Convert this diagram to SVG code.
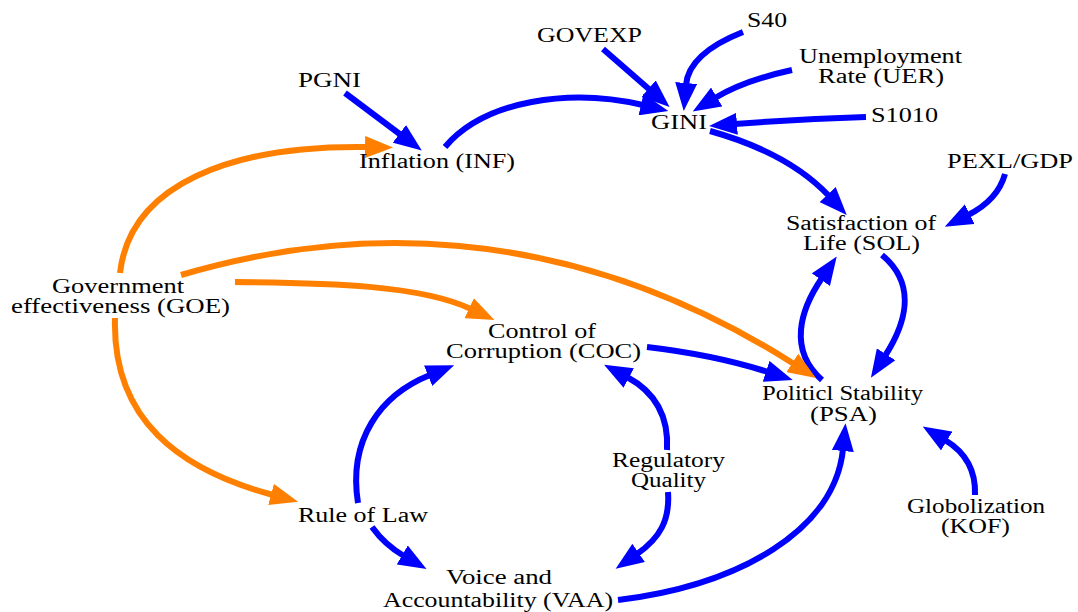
<svg xmlns="http://www.w3.org/2000/svg" width="1078" height="612" viewBox="0 0 1078 612">
  <style>
    text { font-family: "Liberation Serif", "Times New Roman", serif; font-size: 20px; fill: #000; }
    .b { fill: none; stroke: #0000ff; stroke-width: 6; marker-end: url(#ab); }
    .o { fill: none; stroke: #ff8000; stroke-width: 6; marker-end: url(#ao); }
  </style>
  <defs>
    <marker id="ab" markerUnits="userSpaceOnUse" viewBox="0 0 28 22" markerWidth="28" markerHeight="22" refX="2" refY="11" orient="auto">
      <path d="M0,0 L28,11 L0,22 z" fill="#0000ff"/>
    </marker>
    <marker id="ao" markerUnits="userSpaceOnUse" viewBox="0 0 28 22" markerWidth="28" markerHeight="22" refX="2" refY="11" orient="auto">
      <path d="M0,0 L28,11 L0,22 z" fill="#ff8000"/>
    </marker>
  </defs>
  <rect width="1078" height="612" fill="#fff"/>

  <g id="connectors">
    <path class="b" d="M345,93 L401,135"/>
    <path class="b" d="M445,147 C485,100 570,88 643,105"/>
    <path class="b" d="M603,49 L650,90"/>
    <path class="b" d="M743,32 C710,45 688,62 686,85"/>
    <path class="b" d="M792,70 C760,77 735,86 715,98"/>
    <path class="b" d="M866,117 Q800,119 735,124"/>
    <path class="b" d="M710,131 C760,145 800,165 829,196"/>
    <path class="b" d="M1005,174 C1000,192 988,205 968,215"/>
    <path class="b" d="M882,255 C918,285 905,325 885,356"/>
    <path class="b" d="M822,380 C788,350 800,310 822,278"/>
    <path class="b" d="M647,347 Q715,355 768,372"/>
    <path class="o" d="M181,275 C340,228 560,215 794,364"/>
    <path class="o" d="M120,273 C130,185 230,145 367,147"/>
    <path class="o" d="M235,282 C330,283 420,285 471,309"/>
    <path class="o" d="M115,318 C112,420 180,470 273,495"/>
    <path class="b" d="M372,527 Q385,545 404,556"/>
    <path class="b" d="M358,503 C348,440 380,395 430,375"/>
    <path class="b" d="M667,450 C669,415 655,392 627,377"/>
    <path class="b" d="M668,492 C670,520 660,538 637,554"/>
    <path class="b" d="M618,600 C740,585 835,530 843,449"/>
    <path class="b" d="M975,495 C976,470 965,452 945,440"/>
  </g>

  <g id="PGNI"><text x="298" y="87" textLength="63" lengthAdjust="spacingAndGlyphs">PGNI</text></g>
  <g id="GOVEXP"><text x="537" y="42" textLength="105" lengthAdjust="spacingAndGlyphs">GOVEXP</text></g>
  <g id="S40"><text x="747" y="27" textLength="40" lengthAdjust="spacingAndGlyphs">S40</text></g>
  <g id="UER">
    <text x="799" y="63" textLength="163" lengthAdjust="spacingAndGlyphs">Unemployment</text>
    <text x="818" y="83" textLength="126" lengthAdjust="spacingAndGlyphs">Rate (UER)</text>
  </g>
  <g id="S1010"><text x="871" y="122" textLength="67" lengthAdjust="spacingAndGlyphs">S1010</text></g>
  <g id="GINI"><text x="651" y="129" textLength="56" lengthAdjust="spacingAndGlyphs">GINI</text></g>
  <g id="INF"><text x="359" y="168" textLength="156" lengthAdjust="spacingAndGlyphs">Inflation (INF)</text></g>
  <g id="PEXL_GDP"><text x="947" y="168" textLength="126" lengthAdjust="spacingAndGlyphs">PEXL/GDP</text></g>
  <g id="SOL">
    <text x="786" y="230" textLength="150" lengthAdjust="spacingAndGlyphs">Satisfaction of</text>
    <text x="803" y="250" textLength="117" lengthAdjust="spacingAndGlyphs">Life (SOL)</text>
  </g>
  <g id="GOE">
    <text x="52" y="293" textLength="132" lengthAdjust="spacingAndGlyphs">Government</text>
    <text x="11" y="313" textLength="219" lengthAdjust="spacingAndGlyphs">effectiveness (GOE)</text>
  </g>
  <g id="COC">
    <text x="488" y="338" textLength="108" lengthAdjust="spacingAndGlyphs">Control of</text>
    <text x="446" y="358" textLength="195" lengthAdjust="spacingAndGlyphs">Corruption (COC)</text>
  </g>
  <g id="PSA">
    <text x="762" y="400" textLength="161" lengthAdjust="spacingAndGlyphs">Politicl Stability</text>
    <text x="810" y="421" textLength="67" lengthAdjust="spacingAndGlyphs">(PSA)</text>
  </g>
  <g id="RQ">
    <text x="612" y="467" textLength="113" lengthAdjust="spacingAndGlyphs">Regulatory</text>
    <text x="631" y="487" textLength="75" lengthAdjust="spacingAndGlyphs">Quality</text>
  </g>
  <g id="RoL"><text x="298" y="522" textLength="130" lengthAdjust="spacingAndGlyphs">Rule of Law</text></g>
  <g id="KOF">
    <text x="907" y="513" textLength="138" lengthAdjust="spacingAndGlyphs">Globolization</text>
    <text x="941" y="533" textLength="69" lengthAdjust="spacingAndGlyphs">(KOF)</text>
  </g>
  <g id="VAA">
    <text x="446" y="584" textLength="106" lengthAdjust="spacingAndGlyphs">Voice and</text>
    <text x="383" y="607" textLength="230" lengthAdjust="spacingAndGlyphs">Accountability (VAA)</text>
  </g>
</svg>
